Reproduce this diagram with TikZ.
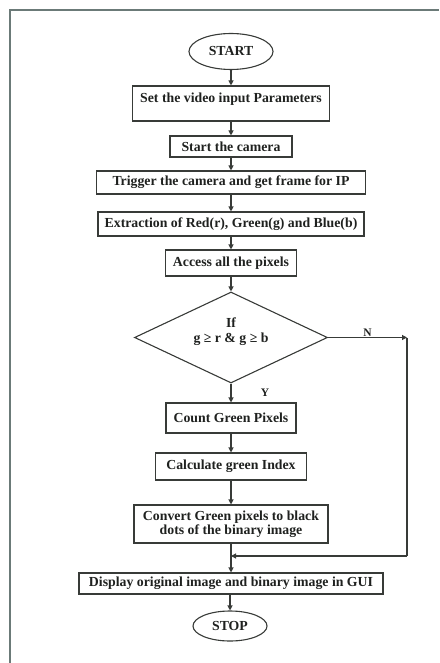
\documentclass[tikz,border=0pt]{standalone}
\usepackage{fontspec}
\setmainfont{Liberation Serif}
\usetikzlibrary{shapes.geometric,arrows.meta}

\definecolor{framegray}{rgb}{0.42,0.48,0.47}
\definecolor{linegray}{rgb}{0.22,0.23,0.22}
\definecolor{inkgray}{rgb}{0.12,0.13,0.12}

\begin{document}
\begin{tikzpicture}[x=10pt,y=-10pt,
    font=\fontsize{13.8}{14.5}\selectfont\bfseries,
    box/.style={draw=linegray, line width=1.1pt, text=inkgray, inner sep=2pt, align=center},
    term/.style={ellipse, draw=linegray, line width=1.1pt, text=inkgray, inner sep=0pt},
    decision/.style={diamond, draw=linegray, line width=1.1pt, text=inkgray, aspect=2, inner sep=0pt, align=center},
    arr/.style={draw=linegray, line width=1.1pt, -{Triangle[length=5pt,width=5pt]}},
    lbl/.style={text=inkgray, font=\fontsize{11.5}{12}\selectfont\bfseries}]
    \useasboundingbox (0,0) rectangle (43.9,66.3);

    % Page frame (cut off at the right and bottom)
    \draw [framegray, line width=1.5pt] (1.0,66.3) -- (1.0,1.0) -- (43.9,1.0);

    % Steps
    \node [term, minimum width=84pt, minimum height=36pt] (start) at (23.1,5.15) {START};
    \node [box, minimum width=197pt, minimum height=35pt, text depth=12pt] (param) at (23.1,10.35) {Set the video input Parameters};
    \node [box, minimum width=122pt, minimum height=21pt] (camera) at (23.1,14.65) {Start the camera};
    \node [box, minimum width=269pt, minimum height=23pt] (trigger) at (23.1,18.25) {Trigger the camera and get frame for IP};
    \node [box, minimum width=266pt, minimum height=24pt] (extract) at (23.1,22.4) {Extraction of Red(r), Green(g) and Blue(b)};
    \node [box, minimum width=131pt, minimum height=26pt] (access) at (23.1,26.3) {Access all the pixels};

    % Green test
    \node [decision, minimum width=193pt, minimum height=91pt, text depth=15pt] (check) at (23.1,33.75) {If\\ g ≥ r \& g ≥ b};

    \node [box, minimum width=130pt, minimum height=30pt] (count) at (23.1,41.8) {Count Green Pixels};
    \node [box, minimum width=151pt, minimum height=27pt] (index) at (23.1,46.65) {Calculate green Index};
    \node [box, minimum width=194pt, minimum height=38pt] (convert) at (23.1,52.4) {Convert Green pixels to black\\ dots of the binary image};
    \node [box, minimum width=304pt, minimum height=21pt] (display) at (23.1,58.35) {Display original image and binary image in GUI};
    \node [term, minimum width=74pt, minimum height=30pt] (stop) at (23.0,62.6) {STOP};

    % Bypass of the N branch
    \coordinate (nend) at (40.7,33.75);
    \coordinate (nturn) at (40.7,55.6);
    \coordinate (join) at (23.1,55.6);

    % Connectors
    \draw [arr] (start) -- (param);
    \draw [arr] (param) -- (camera);
    \draw [arr] (camera) -- (trigger);
    \draw [arr] (trigger) -- (extract);
    \draw [arr] (extract) -- (access);
    \draw [arr] (access) -- (check);
    \draw [arr] (check) -- node[lbl, midway, xshift=34pt] {Y} (count);
    \draw [arr] (count) -- (index);
    \draw [arr] (index) -- (convert);
    \draw [arr] (convert) -- (display);
    \draw [arr] (display.south -| stop.north) -- (stop);
    \draw [arr] (check.east) -- node[lbl, above, inner sep=0.5pt] {N} (nend);
    \draw [draw=linegray, line width=1.1pt] (nend) -- (nturn);
    \draw [arr] (nturn) -- (join);

\end{tikzpicture}
\end{document}
